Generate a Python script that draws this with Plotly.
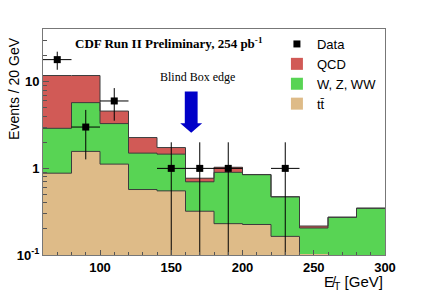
import plotly.graph_objects as go

# ---- data ----
bin_edges = [60, 80, 100, 120, 140, 160, 180, 200, 220, 240, 260, 280, 300]
bin_centers = [70, 90, 110, 130, 150, 170, 190, 210, 230, 250, 270, 290]
# cumulative stacked heights (events / 20 GeV)
ttbar_vals = [0.88, 1.57, 1.12, 0.57, 0.55, 0.32, 0.23, 0.225, 0.164, 0.104, 0, 0]
ttbar_wzww_vals = [2.9, 5.74, 3.29, 1.50, 1.46, 0.70, 0.90, 0.845, 0.47, 0.205, 0.273, 0.347]
total_vals = [11.8, 11.8, 4.59, 2.27, 1.74, 0.77, 1.03, 0.85, 0.47, 0.216, 0.273, 0.347]

data_x = [70, 90, 110, 150, 170, 190, 230]
data_y = [18, 3, 6, 1, 1, 1, 1]
data_err = [4.24, 1.73, 2.45, 1.0, 1.0, 1.0, 1.0]
data_xerr = [10, 10, 10, 10, 10, 10, 10]

y_tickvals = [0.1, 1, 10]
y_ticktext = ["10<sup>-1</sup>", "1", "10"]
x_tickvals = [100, 150, 200, 250, 300]

blind_box_x = 164

RED = "#d15a56"
GREEN = "#58d454"
TAN = "#debb88"
EDGE = "#3c3c3c"

fig = go.Figure()

def step_y(vals):
    return [v if v > 0 else None for v in vals] + [vals[-1] if vals[-1] > 0 else None]

for vals, col, name, rank in [(total_vals, RED, "QCD", 2),
                              (ttbar_wzww_vals, GREEN, "W, Z, WW", 3),
                              (ttbar_vals, TAN, "tt\u0304", 4)]:
    fig.add_trace(go.Bar(x=bin_centers, y=vals, width=20,
                         marker=dict(color=col, line=dict(width=0)),
                         name=name, legendrank=rank, hoverinfo="skip"))
for vals in [total_vals, ttbar_wzww_vals, ttbar_vals]:
    fig.add_trace(go.Scatter(x=bin_edges, y=step_y(vals), mode="lines", line_shape="hv",
                             line=dict(color=EDGE, width=1), showlegend=False, hoverinfo="skip"))

fig.add_trace(go.Scatter(x=data_x, y=data_y, mode="markers", name="Data", legendrank=1,
                         marker=dict(symbol="square", size=7, color="black"),
                         error_y=dict(type="data", array=data_err, color="black", thickness=1, width=0),
                         error_x=dict(type="data", array=data_xerr, color="black", thickness=1, width=0)))

# Blind box arrow (thick blue down arrow)
shaft_hw = 4.5
head_hw = 7.7
y_top, y_head, y_tip = 0.7235, 0.5835, 0.5405
path = (f"M {blind_box_x - shaft_hw},{y_top} L {blind_box_x + shaft_hw},{y_top} "
        f"L {blind_box_x + shaft_hw},{y_head} L {blind_box_x + head_hw},{y_head} "
        f"L {blind_box_x},{y_tip} L {blind_box_x - head_hw},{y_head} "
        f"L {blind_box_x - shaft_hw},{y_head} Z")
fig.add_shape(type="path", path=path, xref="x", yref="paper", fillcolor="#0000c8", line=dict(width=0))

fig.add_annotation(text="<b>CDF Run II Preliminary, 254 pb<sup>-1</sup></b>", xref="paper", yref="paper",
                   x=0.0877, y=0.938, xanchor="left", yanchor="middle", showarrow=False,
                   font=dict(family="Liberation Serif", size=13, color="black"))
fig.add_annotation(text="Blind Box edge", xref="paper", yref="paper", x=0.452, y=0.789,
                   xanchor="center", yanchor="middle", showarrow=False,
                   font=dict(family="Liberation Serif", size=12, color="black"))
fig.add_annotation(text="Events / 20 GeV", xref="paper", yref="paper", x=-0.085, y=0.739,
                   textangle=-90, xanchor="center", yanchor="middle", showarrow=False,
                   font=dict(family="Liberation Sans", size=14, color="black"))
fig.add_annotation(text="E\u0338<sub>T</sub> [GeV]", xref="paper", yref="paper", x=1.0, y=-0.122,
                   xanchor="right", yanchor="middle", showarrow=False,
                   font=dict(family="Liberation Sans", size=15, color="black"))

tickfont = dict(family="Liberation Sans", size=13, color="black", weight="bold")

fig.update_layout(
    width=429, height=291,
    margin=dict(l=43, r=44, t=29, b=36),
    paper_bgcolor="white", plot_bgcolor="white",
    barmode="overlay", bargap=0,
    showlegend=True,
    legend=dict(x=0.684, y=1.0, xanchor="left", yanchor="top", bgcolor="rgba(0,0,0,0)",
                font=dict(family="Liberation Sans", size=13, color="black"),
                tracegroupgap=0, itemwidth=30),
    xaxis=dict(range=[60, 300], tickvals=x_tickvals, ticks="inside", ticklen=5, tickcolor="#555",
               showgrid=False, zeroline=False, showline=True, linecolor="#777", mirror=True,
               tickfont=tickfont, ticklabelstandoff=0,
               minor=dict(ticks="inside", ticklen=3, dtick=10, tickcolor="#555", showgrid=False)),
    yaxis=dict(type="log", range=[-1, 1.609], tickvals=y_tickvals, ticktext=y_ticktext,
               ticks="inside", ticklen=6, tickcolor="#555",
               showgrid=False, zeroline=False, showline=True, linecolor="#777", mirror=True,
               tickfont=tickfont,
               minor=dict(ticks="inside", ticklen=4, dtick="D1", tickcolor="#555", showgrid=False)),
)

fig.write_html("out.html", post_script="document.body.style.margin='0px';",
               config={"displayModeBar": False})
